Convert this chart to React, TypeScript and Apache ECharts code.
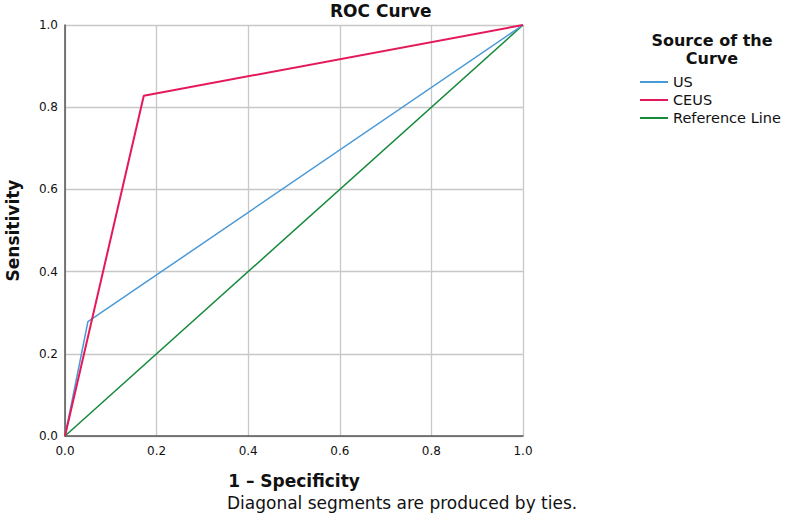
import React, { useEffect, useRef } from "react";
import * as echarts from "echarts";

const seriesNames = ["US", "CEUS", "Reference Line"];
const usPoints: [number, number][] = [
  [0, 0],
  [0.05, 0.278],
  [1, 1],
];
const ceusPoints: [number, number][] = [
  [0, 0],
  [0.172, 0.828],
  [1, 1],
];
const refPoints: [number, number][] = [
  [0, 0],
  [1, 1],
];
const seriesColors = ["#4b9ad8", "#e5195a", "#16893a"];
const titleText = "ROC Curve";
const xName = "1 – Specificity";
const yName = "Sensitivity";
const legendTitleLines = ["Source of the", "Curve"];
const footnote = "Diagonal segments are produced by ties.";

const FONT = "DejaVu Sans";

export default function App() {
  const ref = useRef<HTMLDivElement>(null);
  useEffect(() => {
    if (!ref.current) return;
    const chart = echarts.init(ref.current, undefined, { renderer: "svg" });
    const axisCommon = {
      type: "value" as const,
      min: 0,
      max: 1,
      interval: 0.2,
      axisLine: { show: true, lineStyle: { color: "#555", width: 1.5 } },
      axisTick: { show: false },
      splitLine: { show: true, lineStyle: { color: "#c8c8c8", width: 1.3 } },
      axisLabel: {
        color: "#111",
        fontFamily: FONT,
        fontSize: 12,
        formatter: (v: number) => v.toFixed(1),
      },
      nameTextStyle: { fontFamily: FONT, fontWeight: "bold" as const, fontSize: 17, color: "#111" },
      nameLocation: "middle" as const,
    };
    chart.setOption({
      animation: false,
      backgroundColor: "#fff",
      title: {
        text: titleText,
        left: 330,
        top: 2,
        padding: 0,
        textStyle: { fontFamily: FONT, fontWeight: "bold", fontSize: 17, color: "#111" },
      },
      grid: {
        left: 65,
        right: 263,
        top: 25,
        bottom: 90,
        containLabel: false,
        outerBoundsMode: "none",
      },
      xAxis: {
        ...axisCommon,
        name: xName,
        nameGap: 36,
        axisLabel: { ...axisCommon.axisLabel, margin: 9 },
      },
      yAxis: {
        ...axisCommon,
        name: yName,
        nameGap: 44,
        axisLabel: { ...axisCommon.axisLabel, margin: 7 },
      },
      legend: {
        orient: "vertical",
        left: 640,
        top: 74,
        padding: 0,
        itemWidth: 28,
        itemHeight: 2,
        itemGap: 2,
        icon: "rect",
        data: seriesNames,
        textStyle: { fontFamily: FONT, fontSize: 14.5, color: "#111", lineHeight: 16 },
      },
      graphic: [
        {
          type: "text",
          x: 712,
          y: 40,
          style: {
            text: legendTitleLines[0],
            fontFamily: FONT,
            fontWeight: "bold",
            fontSize: 16,
            fill: "#111",
            align: "center",
            verticalAlign: "middle",
          },
        },
        {
          type: "text",
          x: 712,
          y: 58,
          style: {
            text: legendTitleLines[1],
            fontFamily: FONT,
            fontWeight: "bold",
            fontSize: 16,
            fill: "#111",
            align: "center",
            verticalAlign: "middle",
          },
        },
        {
          type: "text",
          x: 227,
          y: 503,
          style: {
            text: footnote,
            fontFamily: FONT,
            fontSize: 17,
            fill: "#111",
            align: "left",
            verticalAlign: "middle",
          },
        },
      ],
      series: [
        {
          name: seriesNames[0],
          type: "line",
          data: usPoints,
          showSymbol: false,
          lineStyle: { color: seriesColors[0], width: 1.5 },
          itemStyle: { color: seriesColors[0] },
          z: 3,
        },
        {
          name: seriesNames[1],
          type: "line",
          data: ceusPoints,
          showSymbol: false,
          lineStyle: { color: seriesColors[1], width: 2 },
          itemStyle: { color: seriesColors[1] },
          z: 4,
        },
        {
          name: seriesNames[2],
          type: "line",
          data: refPoints,
          showSymbol: false,
          lineStyle: { color: seriesColors[2], width: 1.5 },
          itemStyle: { color: seriesColors[2] },
          z: 2,
        },
      ],
    });
    return () => chart.dispose();
  }, []);
  return <div ref={ref} style={{ width: 786, height: 526, position: "absolute", left: 0, top: 0 }} />;
}
